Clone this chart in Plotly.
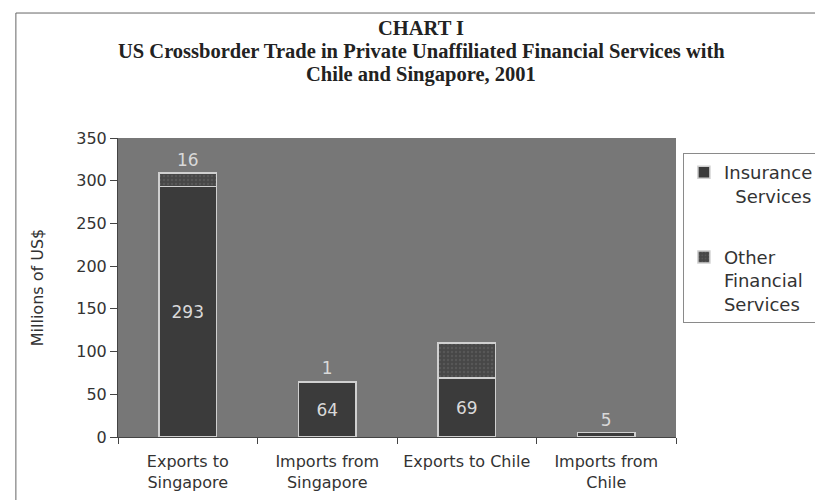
import plotly.graph_objects as go

categories = ["Exports to<br>Singapore", "Imports from<br>Singapore", "Exports to Chile", "Imports from<br>Chile"]
insurance = [293, 64, 69, 5]
other = [16, 1, 41, None]
other_label_shown = [True, True, False, False]
insurance_textpos = ["inside", "inside", "inside", "outside"]
y_ticks = [0, 50, 100, 150, 200, 250, 300, 350]
title_lines = ["CHART I",
               "US Crossborder Trade in Private Unaffiliated Financial Services with",
               "Chile and Singapore, 2001"]

label_font = dict(family="DejaVu Sans", size=17, color="#d9d9d9")

fig = go.Figure()
fig.add_trace(go.Bar(
    name="Insurance<br>\u00a0\u00a0Services",
    x=categories, y=insurance,
    text=[str(v) for v in insurance],
    textposition=insurance_textpos,
    insidetextanchor="middle",
    constraintext="none",
    textfont=label_font,
    marker=dict(color="#3b3b3b", line=dict(color="#d0d0d0", width=1.5)),
    legendgroup="a",
))
fig.add_trace(go.Bar(
    name="Other<br>Financial<br>Services",
    x=categories, y=other,
    text=[str(v) if (v is not None and s) else "" for v, s in zip(other, other_label_shown)],
    textposition="outside",
    constraintext="none",
    textfont=label_font,
    marker=dict(color="#474747", line=dict(color="#d0d0d0", width=1.5),
                pattern=dict(shape=".", fgcolor="#666666", size=4, solidity=0.3)),
    legendgroup="b",
))

fig.update_layout(
    width=823, height=500,
    barmode="stack",
    bargap=0.59,
    paper_bgcolor="white",
    plot_bgcolor="#777777",
    margin=dict(l=110, r=150, t=130, b=71),
    font=dict(family="DejaVu Sans", size=16, color="#333333"),
    legend=dict(
        x=1.0124, xanchor="left", y=0.95, yanchor="top",
        bgcolor="white", bordercolor="#8a8a8a", borderwidth=1,
        font=dict(family="DejaVu Sans", size=18, color="#333333"),
        traceorder="grouped", tracegroupgap=35,
        itemwidth=30, valign="top",
    ),
    showlegend=True,
)
# three title lines, tighter spacing than a plotly multi-line title
title_y = [1.368, 1.291, 1.211]
for txt, ty in zip(title_lines, title_y):
    fig.add_annotation(
        text=txt, xref="paper", yref="paper", x=0.5435, y=ty,
        xanchor="center", yanchor="middle", showarrow=False,
        font=dict(family="Liberation Serif", size=20.5, color="#222222", weight="bold"),
    )
fig.update_xaxes(
    showgrid=False, showline=True, linecolor="#444444", linewidth=1,
    ticks="outside", tickson="boundaries", ticklen=6, tickcolor="#444444",
    ticklabelstandoff=10,
    tickfont=dict(family="DejaVu Sans", size=16, color="#333333"),
)
fig.update_yaxes(
    range=[0, 350], tickvals=y_ticks, showgrid=False, zeroline=False,
    showline=True, linecolor="#444444", linewidth=1,
    ticks="outside", ticklen=7, tickcolor="#444444",
    tickfont=dict(family="DejaVu Sans", size=16, color="#333333"),
    title=dict(text="Millions of US$", font=dict(family="DejaVu Sans", size=16, color="#333333"), standoff=28),
)
fig.add_shape(type="rect", xref="paper", yref="paper",
              x0=-0.183, x1=1.256, y0=-0.233, y1=1.418,
              line=dict(color="#666666", width=1), layer="below")

fig.write_html("out.html")
